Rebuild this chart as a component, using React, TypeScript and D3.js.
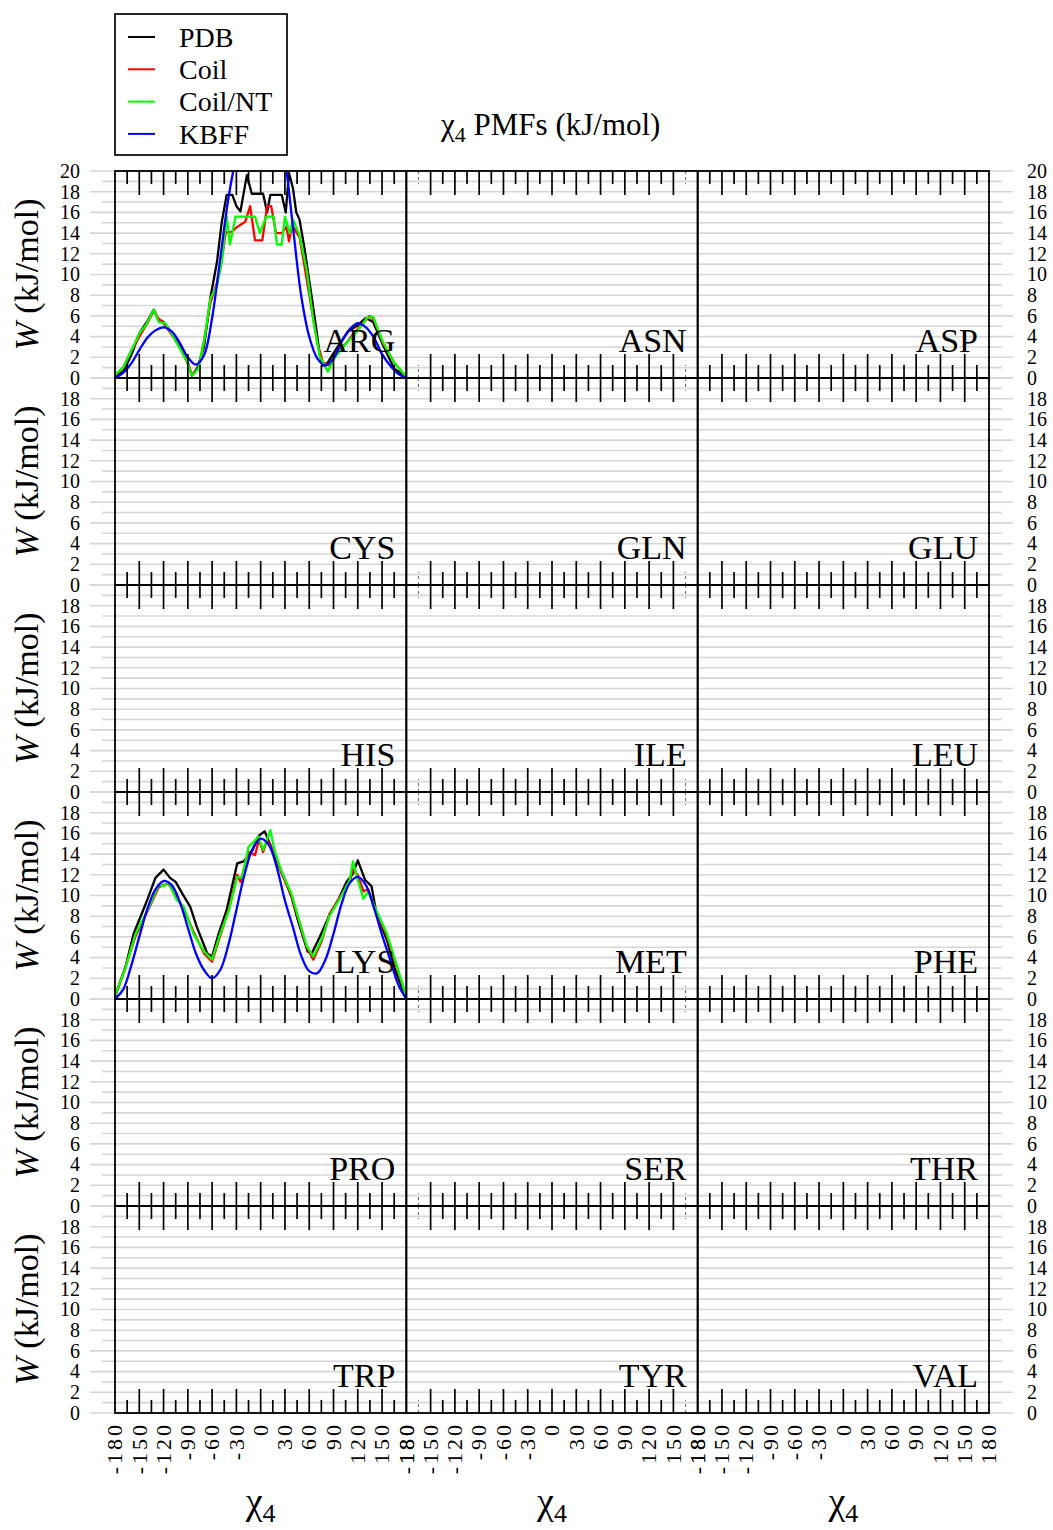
import React from "react";
import { scaleLinear, line, range, curveLinear, curveCatmullRom } from "d3";

// residues shown in the 6 x 3 lattice, left to right, top to bottom
const residues = [
  "ARG", "ASN", "ASP",
  "CYS", "GLN", "GLU",
  "HIS", "ILE", "LEU",
  "LYS", "MET", "PHE",
  "PRO", "SER", "THR",
  "TRP", "TYR", "VAL",
];
const seriesNames = ["PDB", "Coil", "Coil/NT", "KBFF"];
const seriesColors = ["#000000", "#ff0000", "#00ff00", "#0000ff"];
const chiTickLabels = [-180, -150, -120, -90, -60, -30, 0, 30, 60, 90, 120, 150, 180];
const wTickLabels = [0, 2, 4, 6, 8, 10, 12, 14, 16, 18, 20];

type Pt = [number, number]; // [chi4 (deg), W (kJ/mol)]

const argPdb: Pt[] = [
  [-180, 0.1], [-170, 0.6], [-160, 2.2], [-150, 4.3], [-140, 5.5], [-132, 6.6], [-127, 5.7],
  [-120, 5.4], [-110, 4.4], [-100, 3.1], [-90, 1.4], [-85, 0.2], [-78, 1.0], [-70, 3.0],
  [-62, 7.8], [-54, 11.2], [-48, 15.1], [-42, 17.7], [-35, 17.7], [-30, 16.6], [-25, 16.1],
  [-17, 19.6], [-11, 17.8], [3, 17.8], [8, 16.0], [12, 17.7], [26, 17.7], [31, 16.0],
  [35, 19.8], [40, 18.3], [44, 16.0], [48, 15.3], [54, 12.6], [62, 8.4], [69, 4.6], [73, 2.2],
  [77, 1.2], [83, 1.5], [95, 3.0], [108, 4.5], [120, 5.1], [130, 5.8], [139, 5.4], [151, 3.2],
  [165, 0.9], [180, 0.1],
];
const argCoil: Pt[] = [
  [-180, 0.2], [-170, 1.0], [-160, 2.6], [-150, 4.0], [-140, 5.3], [-132, 6.5], [-127, 5.8],
  [-120, 5.3], [-110, 4.2], [-100, 3.0], [-90, 1.5], [-85, 0.3], [-77, 0.9], [-70, 3.6],
  [-62, 7.3], [-54, 9.2], [-48, 11.5], [-43, 14.1], [-36, 14.1], [-29, 14.6], [-19, 15.1],
  [-13, 16.6], [-7, 13.3], [2, 13.3], [8, 16.6], [13, 16.6], [19, 14.0], [26, 14.0], [32, 14.6],
  [35, 13.2], [39, 14.8], [44, 14.1], [48, 13.6], [54, 10.9], [62, 7.1], [70, 3.4], [77, 1.5],
  [85, 1.2], [95, 2.6], [105, 3.3], [115, 4.3], [125, 5.2], [135, 6.0], [140, 5.6], [151, 3.4],
  [165, 1.5], [180, 0.1],
];
const argCoilNT: Pt[] = [
  [-180, 0.3], [-170, 1.0], [-160, 2.6], [-150, 4.3], [-142, 5.1], [-132, 6.6], [-126, 5.4],
  [-118, 5.3], [-110, 4.3], [-101, 3.0], [-91, 1.6], [-85, 0.2], [-77, 0.9], [-70, 3.5],
  [-62, 7.7], [-54, 8.9], [-48, 11.2], [-42, 15.6], [-38, 12.9], [-31, 15.6], [-7, 15.6],
  [-1, 14.0], [7, 15.6], [16, 15.6], [20, 12.9], [26, 12.9], [30, 15.6], [36, 14.0], [40, 15.3],
  [48, 13.8], [57, 10.4], [65, 5.6], [73, 2.1], [83, 0.6], [91, 1.9], [104, 3.2], [116, 4.2],
  [127, 5.3], [131, 5.8], [139, 5.9], [151, 3.5], [164, 1.6], [180, 0.1],
];
const argKbff: Pt[] = [
  [-180, 0], [-170, 0.5], [-160, 1.4], [-150, 2.7], [-140, 3.9], [-130, 4.6], [-120, 4.9],
  [-110, 4.5], [-100, 3.4], [-90, 2.0], [-80, 1.3], [-70, 2.2], [-60, 5.8], [-50, 11.5],
  [-40, 17.3], [-30, 21.5], [-20, 24.5], [-10, 26.5], [0, 27], [10, 26.5], [20, 24.5],
  [30, 21], [40, 14.5], [50, 8.0], [60, 4.0], [70, 1.9], [80, 1.2], [90, 1.9], [100, 3.5],
  [110, 4.7], [120, 5.3], [130, 4.9], [140, 3.9], [150, 2.3], [160, 1.2], [170, 0.4], [180, 0],
];

const lysPdb: Pt[] = [
  [-180, 0.2], [-167, 3.1], [-157, 6.3], [-142, 9.2], [-130, 11.7], [-120, 12.5], [-112, 11.7],
  [-105, 11.3], [-97, 10.2], [-87, 8.9], [-79, 7.0], [-66, 4.4], [-60, 4.1], [-52, 6.3],
  [-42, 8.6], [-29, 13.1], [-21, 13.3], [-10, 14.4], [-2, 15.8], [5, 16.2], [13, 14.7],
  [21, 13.1], [30, 11.5], [38, 9.9], [46, 7.6], [58, 4.6], [63, 4.4], [73, 6.0], [85, 8.1],
  [96, 9.6], [106, 11.3], [114, 12.1], [120, 13.4], [129, 11.5], [137, 10.9], [143, 8.3],
  [156, 5.7], [166, 2.8], [180, 0.1],
];
const lysCoil: Pt[] = [
  [-180, 0.3], [-167, 3.1], [-155, 6.0], [-138, 8.8], [-126, 10.8], [-120, 11.0], [-114, 11.2],
  [-104, 9.8], [-95, 8.7], [-83, 6.5], [-70, 4.4], [-60, 3.6], [-50, 6.1], [-39, 8.8],
  [-29, 12.0], [-25, 11.3], [-15, 14.2], [-7, 13.9], [-2, 15.4], [3, 14.2], [8, 15.4],
  [13, 14.6], [17, 14.2], [25, 12.3], [34, 10.7], [38, 10.0], [46, 7.9], [57, 5.0], [65, 3.8],
  [75, 5.5], [85, 8.2], [100, 10.1], [110, 11.3], [114, 12.5], [120, 12.0], [127, 10.4],
  [133, 10.6], [141, 8.7], [156, 6.1], [166, 3.6], [180, 0.2],
];
const lysCoilNT: Pt[] = [
  [-180, 0.3], [-167, 3.0], [-155, 6.2], [-138, 8.9], [-126, 11.0], [-120, 10.9], [-114, 11.3],
  [-104, 9.6], [-95, 8.9], [-83, 6.3], [-70, 4.6], [-60, 3.8], [-50, 6.3], [-39, 8.6],
  [-29, 11.8], [-23, 11.7], [-15, 14.7], [-7, 15.3], [-3, 15.7], [3, 14.4], [12, 16.3],
  [17, 14.4], [25, 12.5], [34, 10.9], [38, 10.2], [46, 8.0], [57, 5.1], [65, 4.1], [75, 5.7],
  [85, 8.0], [100, 10.0], [110, 11.5], [114, 13.3], [120, 11.5], [127, 9.7], [133, 10.4],
  [141, 8.9], [156, 6.3], [166, 3.8], [180, 0.2],
];
const lysKbff: Pt[] = [
  [-180, 0], [-170, 0.9], [-160, 3.2], [-150, 6.0], [-140, 8.7], [-130, 10.6], [-120, 11.4],
  [-110, 11.0], [-100, 9.4], [-90, 6.9], [-80, 4.4], [-70, 2.8], [-60, 2.0], [-50, 2.8],
  [-40, 5.2], [-30, 8.6], [-20, 12.0], [-10, 14.5], [0, 15.5], [10, 14.9], [20, 12.7],
  [30, 9.5], [40, 6.9], [50, 4.2], [60, 2.7], [70, 2.5], [80, 3.8], [90, 6.3], [100, 9.2],
  [110, 11.2], [120, 11.8], [130, 11.0], [140, 8.8], [150, 6.2], [160, 3.8], [170, 1.4], [180, 0],
];

const panelCurves: Record<string, Pt[][]> = {
  ARG: [argPdb, argCoil, argCoilNT, argKbff],
  LYS: [lysPdb, lysCoil, lysCoilNT, lysKbff],
};

const W = 1053;
const H = 1530;
const gridLeft = 115;
const gridRight = 989;
const gridTop = 171;
const gridBottom = 1413;
const nCols = 3;
const nRows = 6;
const colW = (gridRight - gridLeft) / nCols;
const rowH = (gridBottom - gridTop) / nRows;
const serif = "Liberation Serif, Tinos, Times New Roman, Times, serif";

const rowScale = (r: number) =>
  scaleLinear().domain([0, 20]).range([gridTop + (r + 1) * rowH, gridTop + r * rowH]);
const colScale = (c: number) =>
  scaleLinear().domain([-180, 180]).range([gridLeft + c * colW, gridLeft + (c + 1) * colW]);

const Panel = ({ idx }: { idx: number }) => {
  const c = idx % nCols;
  const r = Math.floor(idx / nCols);
  const x = colScale(c);
  const y = rowScale(r);
  const name = residues[idx];
  const curves = panelCurves[name] || [];
  const x0 = x(-180), x1 = x(180), yTop = y(20), yBot = y(0);
  const ticks = range(-165, 180, 15);

  return (
    <g>
      <clipPath id={`clip-${idx}`}>
        <rect x={x0} y={yTop} width={x1 - x0} height={yBot - yTop} />
      </clipPath>
      <g clipPath={`url(#clip-${idx})`}>
        {curves.map((pts, k) => {
          const path = line<Pt>()
            .x((d) => x(d[0]))
            .y((d) => y(d[1]))
            .curve(k === 3 ? curveCatmullRom : curveLinear)(pts);
          return (
            <path key={k} d={path || ""} fill="none" stroke={seriesColors[k]}
              strokeWidth={2.3} strokeLinejoin="round" />
          );
        })}
      </g>
      {ticks.map((t) => {
        const len = t % 30 === 0 ? 24 : 13;
        // the middle column's outermost ticks come out faint and broken in the original
        const faint = c === 1 && Math.abs(t) === 165;
        return (
          <g key={t} stroke={faint ? "#777" : "#000"} strokeWidth={faint ? 1.2 : 1.7}
            strokeDasharray={faint ? "3 3" : undefined}>
            <line x1={x(t)} x2={x(t)} y1={yTop} y2={yTop + len} />
            <line x1={x(t)} x2={x(t)} y1={yBot} y2={yBot - len} />
          </g>
        );
      })}
      <rect x={x0} y={yTop} width={x1 - x0} height={yBot - yTop} fill="none"
        stroke="#000" strokeWidth={1.8} />
      <text x={x1 - 11} y={yBot - 26} textAnchor="end" fontSize={34}>{name}</text>
    </g>
  );
};

export default function App() {
  const rows = range(nRows);
  const cols = range(nCols);
  return (
    <svg width={W} height={H}
      style={{ position: "absolute", left: 0, top: 0, background: "#fff", fontFamily: serif }}>
      <rect width={W} height={H} fill="#fff" />

      {/* light grey reference lines, one per kJ/mol */}
      {rows.map((r) => {
        const y = rowScale(r);
        return range(0, 21).map((v) => (
          <line key={`g${r}-${v}`} x1={v % 2 === 0 ? 90 : 102} x2={v % 2 === 0 ? 1013 : 1002}
            y1={y(v)} y2={y(v)} stroke="#d6d6d6" strokeWidth={1.6} />
        ));
      })}

      {residues.map((_, i) => <Panel key={i} idx={i} />)}

      {/* y axes both sides */}
      {rows.map((r) => {
        const y = rowScale(r);
        const labs = r === 0 ? wTickLabels : wTickLabels.filter((v) => v < 20);
        return (
          <g key={`ya${r}`} fontSize={20}>
            {labs.map((v) => (
              <g key={v}>
                <text x={80} y={y(v)} dy="0.34em" textAnchor="end">{v}</text>
                <text x={1027} y={y(v)} dy="0.34em" textAnchor="start">{v}</text>
              </g>
            ))}
            <text transform={`translate(38,${y(10)}) rotate(-90)`} textAnchor="middle" fontSize={34}>
              <tspan fontStyle="italic">W</tspan> (kJ/mol)
            </text>
          </g>
        );
      })}

      {/* x axes */}
      {cols.map((c) => {
        const x = colScale(c);
        return (
          <g key={`xa${c}`}>
            {chiTickLabels.map((t) => (
              <text key={t} transform={`translate(${x(t)},1422) rotate(-90)`} textAnchor="end"
                dy="0.33em" fontSize={22} letterSpacing={3}>{t}</text>
            ))}
            <text x={x(0)} y={1514} textAnchor="middle" fontSize={38}>
              χ<tspan fontSize={26} dy={8}>4</tspan>
            </text>
          </g>
        );
      })}

      {/* title */}
      <text x={441} y={135} fontSize={31}>
        χ<tspan fontSize={22} dy={7}>4</tspan><tspan dy={-7}> PMFs (kJ/mol)</tspan>
      </text>

      {/* legend */}
      <g>
        <rect x={115} y={14} width={172} height={141} fill="#fff" stroke="#000" strokeWidth={1.7} />
        {seriesNames.map((s, k) => {
          const yy = 37 + k * 32.3;
          return (
            <g key={s}>
              <line x1={128} x2={155} y1={yy} y2={yy} stroke={seriesColors[k]} strokeWidth={2} />
              <text x={179} y={yy} dy="0.35em" fontSize={28}>{s}</text>
            </g>
          );
        })}
      </g>
    </svg>
  );
}
